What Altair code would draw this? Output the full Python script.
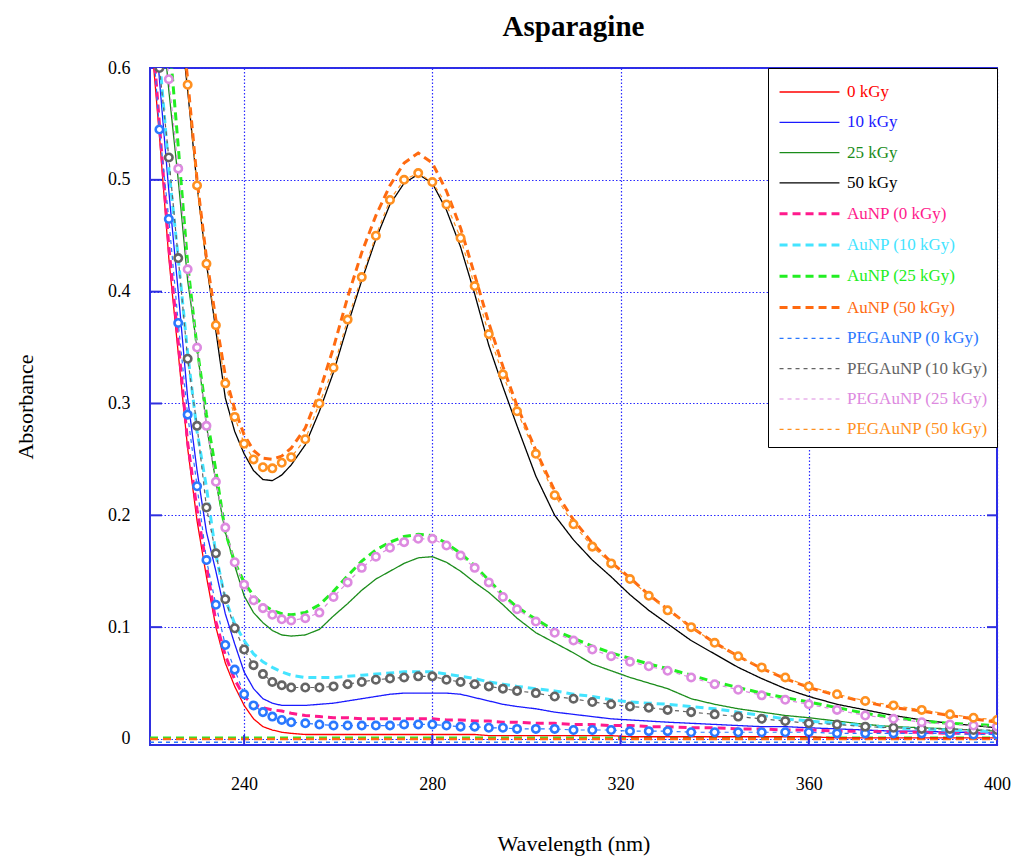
import altair as alt
import pandas as pd

# ---------------- data ----------------
wavelength = [220, 222, 224, 226, 228, 230, 232, 234, 236, 238, 240, 242, 244, 246, 248, 250,
              253, 256, 259, 262, 265, 268, 271, 274, 277, 280, 283, 286, 289, 292, 295, 298,
              302, 306, 310, 314, 318, 322, 326, 330,
              335, 340, 345, 350, 355, 360,
              366, 372, 378, 384, 390, 395, 400]

series_names = ["0 kGy", "10 kGy", "25 kGy", "50 kGy",
                "AuNP (0 kGy)", "AuNP (10 kGy)", "AuNP (25 kGy)", "AuNP (50 kGy)",
                "PEGAuNP (0 kGy)", "PEGAuNP (10 kGy)", "PEGAuNP (25 kGy)", "PEGAuNP (50 kGy)"]

s_0kGy = [0.64, 0.54, 0.43, 0.345, 0.26, 0.195, 0.145, 0.10, 0.068, 0.047, 0.03, 0.018, 0.011, 0.008, 0.006, 0.005,
          0.004, 0.004, 0.004, 0.004, 0.004, 0.004, 0.004, 0.004, 0.004, 0.004, 0.004, 0.004, 0.004, 0.003, 0.003, 0.003,
          0.003, 0.003, 0.003, 0.003, 0.003, 0.002, 0.002, 0.002,
          0.002, 0.002, 0.002, 0.002, 0.002, 0.002,
          0.001, 0.001, 0.001, 0.001, 0.001, 0.001, 0.001]
s_10kGy = [0.70, 0.59, 0.49, 0.40, 0.305, 0.24, 0.185, 0.15, 0.112, 0.085, 0.06, 0.045, 0.036, 0.032, 0.03, 0.03,
           0.03, 0.031, 0.032, 0.034, 0.036, 0.038, 0.04, 0.041, 0.041, 0.041, 0.041, 0.04, 0.037, 0.034, 0.031, 0.029,
           0.027, 0.024, 0.022, 0.02, 0.018, 0.017, 0.016, 0.015,
           0.014, 0.013, 0.012, 0.011, 0.011, 0.01,
           0.009, 0.008, 0.007, 0.007, 0.006, 0.006, 0.005]
s_25kGy = [0.75, 0.67, 0.58, 0.50, 0.41, 0.35, 0.28, 0.23, 0.185, 0.155, 0.128, 0.113, 0.104, 0.097, 0.093, 0.092,
           0.093, 0.098, 0.11, 0.121, 0.133, 0.143, 0.15, 0.157, 0.162, 0.163, 0.158, 0.15, 0.14, 0.131, 0.12, 0.108,
           0.095, 0.086, 0.077, 0.067, 0.061, 0.055, 0.05, 0.045,
           0.036, 0.031, 0.027, 0.024, 0.021, 0.019,
           0.016, 0.013, 0.011, 0.01, 0.009, 0.008, 0.007]
s_50kGy = [0.88, 0.80, 0.73, 0.66, 0.58, 0.495, 0.425, 0.365, 0.305, 0.275, 0.255, 0.24, 0.232, 0.231, 0.236, 0.245,
           0.263, 0.293, 0.328, 0.37, 0.41, 0.447, 0.478, 0.497, 0.505, 0.497, 0.473, 0.44, 0.398, 0.352, 0.315, 0.28,
           0.235, 0.2, 0.178, 0.16, 0.145, 0.129, 0.115, 0.103,
           0.088, 0.076, 0.064, 0.054, 0.045, 0.038,
           0.031, 0.026, 0.021, 0.017, 0.014, 0.012, 0.01]
s_au_0 = [0.66, 0.55, 0.44, 0.355, 0.265, 0.205, 0.155, 0.105, 0.075, 0.053, 0.038, 0.031, 0.028, 0.026, 0.025, 0.023,
          0.021, 0.02, 0.019, 0.019, 0.018, 0.018, 0.018, 0.018, 0.018, 0.018, 0.017, 0.017, 0.016, 0.016, 0.015, 0.015,
          0.014, 0.014, 0.013, 0.013, 0.012, 0.012, 0.011, 0.011,
          0.01, 0.01, 0.009, 0.009, 0.008, 0.008,
          0.007, 0.007, 0.006, 0.006, 0.005, 0.005, 0.005]
s_au_10 = [0.72, 0.61, 0.51, 0.43, 0.345, 0.275, 0.225, 0.165, 0.125, 0.103, 0.088, 0.076, 0.069, 0.064, 0.06, 0.057,
           0.055, 0.055, 0.055, 0.056, 0.057, 0.058, 0.059, 0.06, 0.06, 0.06, 0.058, 0.056, 0.054, 0.051, 0.049, 0.047,
           0.045, 0.043, 0.04, 0.038, 0.035, 0.033, 0.032, 0.031,
           0.029, 0.027, 0.024, 0.021, 0.018, 0.016,
           0.014, 0.012, 0.01, 0.009, 0.008, 0.007, 0.007]
s_au_25 = [0.78, 0.70, 0.63, 0.53, 0.425, 0.35, 0.29, 0.24, 0.185, 0.158, 0.14, 0.128, 0.12, 0.115, 0.112, 0.111,
           0.113, 0.12, 0.132, 0.146, 0.159, 0.169, 0.176, 0.181, 0.183, 0.182, 0.175, 0.166, 0.155, 0.142, 0.129, 0.118,
           0.107, 0.097, 0.09, 0.083, 0.077, 0.072, 0.067, 0.063,
           0.057, 0.051, 0.046, 0.041, 0.037, 0.033,
           0.028, 0.023, 0.019, 0.016, 0.014, 0.013, 0.012]
s_au_50 = [0.90, 0.82, 0.74, 0.67, 0.59, 0.50, 0.43, 0.375, 0.325, 0.295, 0.272, 0.258, 0.251, 0.25, 0.253, 0.26,
           0.278, 0.31, 0.35, 0.395, 0.435, 0.468, 0.495, 0.515, 0.524, 0.515, 0.49, 0.457, 0.415, 0.372, 0.333, 0.298,
           0.258, 0.222, 0.196, 0.175, 0.158, 0.144, 0.129, 0.116,
           0.1, 0.086, 0.074, 0.063, 0.054, 0.046,
           0.039, 0.033, 0.028, 0.025, 0.021, 0.018, 0.015]
s_peg_0 = [0.66, 0.545, 0.465, 0.372, 0.29, 0.226, 0.16, 0.12, 0.084, 0.062, 0.04, 0.03, 0.024, 0.02, 0.017, 0.015,
           0.014, 0.013, 0.012, 0.012, 0.012, 0.012, 0.012, 0.013, 0.013, 0.013, 0.012, 0.011, 0.011, 0.01, 0.01, 0.009,
           0.009, 0.009, 0.008, 0.008, 0.008, 0.007, 0.007, 0.007,
           0.006, 0.006, 0.006, 0.006, 0.006, 0.006,
           0.005, 0.005, 0.005, 0.005, 0.005, 0.004, 0.004]
s_peg_10 = [0.70, 0.60, 0.52, 0.43, 0.34, 0.28, 0.207, 0.166, 0.125, 0.099, 0.08, 0.066, 0.058, 0.051, 0.048, 0.046,
            0.046, 0.046, 0.047, 0.049, 0.051, 0.053, 0.054, 0.055, 0.056, 0.056, 0.053, 0.051, 0.049, 0.047, 0.045, 0.043,
            0.041, 0.038, 0.036, 0.033, 0.031, 0.029, 0.028, 0.026,
            0.024, 0.022, 0.02, 0.018, 0.016, 0.014,
            0.013, 0.011, 0.01, 0.009, 0.009, 0.008, 0.008]
s_peg_25 = [0.75, 0.68, 0.59, 0.51, 0.42, 0.35, 0.28, 0.23, 0.189, 0.158, 0.138, 0.124, 0.117, 0.111, 0.107, 0.106,
            0.108, 0.113, 0.127, 0.14, 0.153, 0.163, 0.171, 0.176, 0.179, 0.179, 0.173, 0.164, 0.153, 0.14, 0.127, 0.116,
            0.105, 0.095, 0.088, 0.08, 0.074, 0.069, 0.065, 0.061,
            0.055, 0.049, 0.044, 0.039, 0.035, 0.031,
            0.026, 0.021, 0.018, 0.015, 0.013, 0.012, 0.011]
s_peg_50 = [0.90, 0.82, 0.74, 0.67, 0.585, 0.495, 0.425, 0.37, 0.318, 0.288, 0.264, 0.25, 0.243, 0.242, 0.247, 0.252,
            0.268, 0.3, 0.332, 0.375, 0.413, 0.45, 0.482, 0.5, 0.506, 0.498, 0.478, 0.448, 0.405, 0.362, 0.326, 0.293,
            0.255, 0.218, 0.192, 0.172, 0.157, 0.143, 0.128, 0.115,
            0.1, 0.086, 0.074, 0.064, 0.055, 0.047,
            0.04, 0.034, 0.03, 0.026, 0.022, 0.019, 0.017]

all_series = [s_0kGy, s_10kGy, s_25kGy, s_50kGy, s_au_0, s_au_10, s_au_25, s_au_50,
              s_peg_0, s_peg_10, s_peg_25, s_peg_50]

# flat traces lying on the zero line (not in legend)
base_wl = [220, 250, 280, 310, 340, 370, 400]
base_green = [0.001, 0.001, 0.001, 0.001, 0.001, 0.001, 0.001]
base_orange = [0.0, 0.0, 0.0, 0.0, 0.0, 0.0, 0.0]
base_blue = [-0.003, -0.003, -0.003, -0.003, -0.003, -0.003, -0.003]

y_ticks = [0, 0.1, 0.2, 0.3, 0.4, 0.5, 0.6]
x_ticks = [240, 280, 320, 360, 400]

# ---------------- styles ----------------
colors = ["#ff0000", "#1a1aff", "#1a8c1a", "#000000",
          "#ff1a8c", "#44e4ff", "#22ee22", "#ff6a10",
          "#2a78ff", "#646464", "#dd8ae0", "#ff9020"]
dashes = [[1, 0], [1, 0], [1, 0], [1, 0],
          [8, 5], [8, 5], [8, 5], [8, 5],
          [4, 4], [4, 4], [4, 4], [4, 4]]
widths = [1.3, 1.3, 1.3, 1.3, 3, 3, 3, 3, 1.2, 1.2, 1.2, 1.2]

rows = []
for name, arr in zip(series_names, all_series):
    assert len(arr) == len(wavelength), name
    for w, v in zip(wavelength, arr):
        rows.append({"wl": w, "A": v, "series": name})
df = pd.DataFrame(rows)

FONT = "Liberation Serif"
W, H = 847, 677
FRAME = "#2f2fe0"
xscale = alt.Scale(domain=[220, 400], nice=False, zero=False)
yscale = alt.Scale(domain=[-0.0054, 0.6], nice=False, zero=False)

X = alt.X("wl:Q", scale=xscale, title="Wavelength (nm)",
          axis=alt.Axis(values=x_ticks, format="d", labelPadding=30, titlePadding=40,
                        labelFlush=False, labelOverlap=False))
Y = alt.Y("A:Q", scale=yscale, title="Absorbance",
          axis=alt.Axis(values=y_ticks, labelPadding=20, titlePadding=70, labelOverlap=False,
                        labelExpr="datum.value == 0 ? '0' : format(datum.value, '.1f')"))

color_expr = ("[" + ",".join("'%s'" % c for c in colors) + "][indexof(["
              + ",".join("'%s'" % n for n in series_names) + "], datum.label)]")

legend = alt.Legend(title=None, orient="top-right", offset=0, padding=9,
                    strokeColor="black", fillColor="white",
                    labelFont=FONT, labelFontSize=17, labelLimit=300,
                    labelColor=alt.ExprRef(expr=color_expr),
                    symbolType="M-2.14,0H2.14", symbolSize=784,
                    symbolOffset=17, labelOffset=22, rowPadding=7.3,
                    symbolFillColor="transparent")

lines = alt.Chart(df).mark_line(clip=True).encode(
    x=X, y=Y,
    color=alt.Color("series:N", scale=alt.Scale(domain=series_names, range=colors), legend=legend, sort=series_names),
    strokeDash=alt.StrokeDash("series:N", scale=alt.Scale(domain=series_names, range=dashes), legend=legend, sort=series_names),
    strokeWidth=alt.StrokeWidth("series:N", scale=alt.Scale(type="ordinal", domain=series_names, range=widths),
                                legend=legend, sort=series_names),
)

layers = []

# zero-line traces
base_df = pd.DataFrame({"wl": base_wl * 3,
                        "A": base_green + base_orange + base_blue,
                        "grp": ["g"] * 7 + ["o"] * 7 + ["b"] * 7})
for grp, col, dash, sw in [("g", "#22ee22", [8, 5], 2.5), ("o", "#ff6a10", [8, 5], 2.5), ("b", "#2a78ff", [4, 4], 1.5)]:
    layers.append(alt.Chart(base_df).transform_filter(alt.datum.grp == grp)
                  .mark_line(clip=True, color=col, strokeDash=dash, strokeWidth=sw)
                  .encode(x=X, y=Y))

layers.append(lines)

# markers for PEGAuNP series
for name, col in zip(series_names[8:], colors[8:]):
    layers.append(alt.Chart(df).transform_filter(alt.datum.series == name)
                  .mark_point(shape="circle", filled=True, fill="white", stroke=col,
                              strokeWidth=2.6, size=55, opacity=1, clip=True)
                  .encode(x=X, y=Y))

# inward tick marks
tick_df = pd.DataFrame({"A": y_ticks[1:-1]})
layers.append(alt.Chart(tick_df).mark_rule(color=FRAME, strokeWidth=2)
              .encode(y=Y, x=alt.value(0), x2=alt.value(12)))
layers.append(alt.Chart(tick_df).mark_rule(color=FRAME, strokeWidth=2)
              .encode(y=Y, x=alt.value(W - 10), x2=alt.value(W)))
xtick_df = pd.DataFrame({"wl": x_ticks[:-1]})
layers.append(alt.Chart(xtick_df).mark_rule(color=FRAME, strokeWidth=2)
              .encode(x=X, y=alt.value(H), y2=alt.value(H - 10)))

chart = alt.layer(*layers).properties(
    width=W, height=H,
    autosize=alt.AutoSizeParams(type="none"),
    padding={"left": 150, "top": 68, "right": 19, "bottom": 114},
    title=alt.TitleParams(text="Asparagine", font=FONT, fontSize=29, fontWeight="bold",
                          anchor="middle", baseline="alphabetic", offset=31, dy=37, color="black"),
).configure_view(
    stroke=FRAME, strokeWidth=2
).configure_axis(
    grid=True, gridColor="#2a2aff", gridDash=[1.5, 2], gridWidth=1.2, gridOpacity=1,
    domain=False, ticks=False,
    labelFont=FONT, titleFont=FONT, labelFontSize=18, titleFontSize=22,
    labelColor="black", titleColor="black", titleFontWeight="normal",
)

chart.save("out.html", embed_options={"renderer": "svg", "actions": False})
